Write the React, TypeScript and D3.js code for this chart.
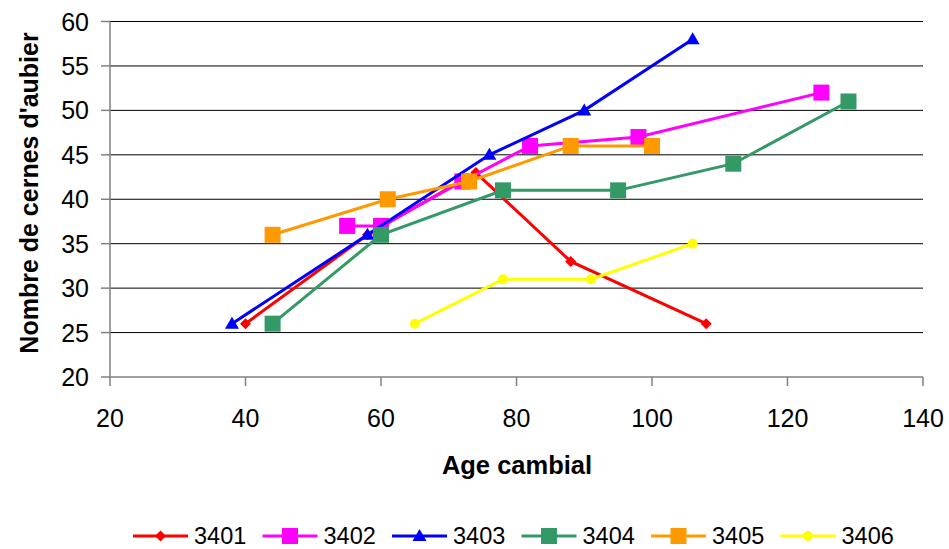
import React from 'react';
import * as d3 from 'd3';

// values
const seriesNames = ['3401', '3402', '3403', '3404', '3405', '3406'];
const ages3401 = [40, 58, 74, 88, 108];
const rings3401 = [26, 36, 43, 33, 26];
const ages3402 = [55, 60, 72, 82, 98, 125];
const rings3402 = [37, 37, 42, 46, 47, 52];
const ages3403 = [38, 58, 76, 90, 106];
const rings3403 = [26, 36, 45, 50, 58];
const ages3404 = [44, 60, 78, 95, 112, 129];
const rings3404 = [26, 36, 41, 41, 44, 51];
const ages3405 = [44, 61, 73, 88, 100];
const rings3405 = [36, 40, 42, 46, 46];
const ages3406 = [65, 78, 91, 106];
const rings3406 = [26, 31, 31, 35];
const xTicks = [20, 40, 60, 80, 100, 120, 140];
const yTicks = [20, 25, 30, 35, 40, 45, 50, 55, 60];

const colors = ['#FF0000', '#FF00FF', '#0000FF', '#339966', '#FF9900', '#FFFF00'];
const shapes = ['diamond', 'square', 'triangle', 'square', 'square', 'circle'];

const allAges = [ages3401, ages3402, ages3403, ages3404, ages3405, ages3406];
const allRings = [rings3401, rings3402, rings3403, rings3404, rings3405, rings3406];

const W = 949;
const H = 549;
const FONT = '"Liberation Sans", Arial, sans-serif';

const Marker: React.FC<{ shape: string; x: number; y: number; color: string }> = ({ shape, x, y, color }) => {
  if (shape === 'square') return <rect x={x - 8} y={y - 8} width={16} height={16} fill={color} />;
  if (shape === 'diamond') return <path d={`M${x},${y - 5.5}L${x + 5.5},${y}L${x},${y + 5.5}L${x - 5.5},${y}Z`} fill={color} />;
  if (shape === 'triangle') return <path d={`M${x},${y - 7}L${x + 7},${y + 5}L${x - 7},${y + 5}Z`} fill={color} />;
  return <circle cx={x} cy={y} r={5} fill={color} />;
};

const App: React.FC = () => {
  const x = d3.scaleLinear().domain([20, 140]).range([110, 923]);
  const y = d3.scaleLinear().domain([20, 60]).range([377, 21.5]);

  const series = seriesNames.map((name, i) => ({
    name,
    color: colors[i],
    shape: shapes[i],
    points: allAges[i].map((a, j) => [a, allRings[i][j]] as [number, number]),
  }));

  const line = d3.line<[number, number]>().x(d => x(d[0])).y(d => y(d[1]));

  return (
    <svg width={W} height={H} style={{ position: 'absolute', left: 0, top: 0 }} fontFamily={FONT}>
      <rect width={W} height={H} fill="#fff" />
      {/* gridlines */}
      {yTicks.filter(t => t > 20).map(t => (
        <line key={t} x1={110} x2={923} y1={y(t)} y2={y(t)} stroke="#000" strokeWidth={1} />
      ))}
      {/* y axis */}
      <line x1={110} x2={110} y1={y(60)} y2={y(20)} stroke="#808080" strokeWidth={1.5} />
      {yTicks.map(t => (
        <g key={t}>
          <line x1={101} x2={110} y1={y(t)} y2={y(t)} stroke="#808080" strokeWidth={1.5} />
          <text x={89} y={y(t)} dy="0.36em" textAnchor="end" fontSize={25} fill="#000">{t}</text>
        </g>
      ))}
      {/* x axis */}
      <line x1={110} x2={923} y1={y(20)} y2={y(20)} stroke="#808080" strokeWidth={1.5} />
      {xTicks.map(t => (
        <g key={t}>
          <line x1={x(t)} x2={x(t)} y1={y(20)} y2={386} stroke="#808080" strokeWidth={1.5} />
          <text x={x(t)} y={427} textAnchor="middle" fontSize={25} fill="#000">{t}</text>
        </g>
      ))}
      <text x={517} y={474} textAnchor="middle" fontSize={25.5} fontWeight="bold">Age cambial</text>
      <text transform={`translate(38,193) rotate(-90)`} textAnchor="middle" fontSize={25} fontWeight="bold">Nombre de cernes d'aubier</text>

      {series.map(s => (
        <g key={s.name}>
          <path d={line(s.points) || ''} fill="none" stroke={s.color} strokeWidth={3} />
          {s.points.map((p, j) => (
            <Marker key={j} shape={s.shape} x={x(p[0])} y={y(p[1])} color={s.color} />
          ))}
        </g>
      ))}

      {/* legend */}
      {series.map((s, i) => {
        const lx = 133 + i * 129.5;
        const ly = 536;
        return (
          <g key={s.name}>
            <line x1={lx} x2={lx + 55} y1={ly} y2={ly} stroke={s.color} strokeWidth={3} />
            <Marker shape={s.shape} x={lx + 27.5} y={ly} color={s.color} />
            <text x={lx + 61} y={ly + 8} fontSize={23.5}>{s.name}</text>
          </g>
        );
      })}
    </svg>
  );
};

export default App;
